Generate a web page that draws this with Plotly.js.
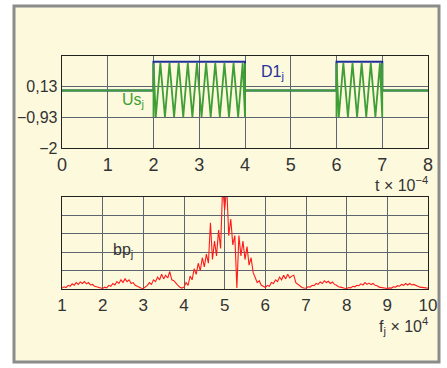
<!DOCTYPE html>
<html><head><meta charset="utf-8">
<script src="https://cdn.plot.ly/plotly-3.0.1.min.js"></script>
<style>html,body{margin:0;padding:0;background:#fff}#chart{width:447px;height:368px}</style>
</head><body><div id="chart"></div>
<script>
// Top chart: time axis (t x 10^-4)
const tTicks = [0,1,2,3,4,5,6,7,8];
const yTopTickVals = [-2,-0.93,0.13];
const yTopTickText = ['\u22122','\u22120,93','0,13'];
const yTopGrid = [-2,-0.93,0.13,1.2];
// D1 gate signal
const d1T = [0,2,2,4,4,6,6,7,7,8];
const d1V = [0,0,1,1,0,0,1,1,0,0];
// Us modulated signal (extrema)
const usT = [0,2,2,2,2.05,2.15,2.25,2.35,2.45,2.55,2.65,2.75,2.85,2.95,3.05,3.15,3.25,3.35,3.45,3.55,3.65,3.75,3.85,3.95,4,4,4,
             6,6,6,6.05,6.15,6.25,6.35,6.45,6.55,6.65,6.75,6.85,6.95,7,7,7,8];
const usV = [0,0,-0.92,0.95,-0.92,0.95,-0.92,0.95,-0.92,0.95,-0.92,0.95,-0.92,0.95,-0.92,0.95,-0.92,0.95,-0.92,0.95,-0.92,0.95,-0.92,0.95,-0.92,0.95,0,
             0,-0.92,0.95,-0.92,0.95,-0.92,0.95,-0.92,0.95,-0.92,0.95,-0.92,0.95,-0.92,0.95,0,0];
// Bottom chart: spectrum bp_j, f from 1 to 10 (x 10^4), sampled every 0.05
const fStart = 1, fStep = 0.05;
const fTicks = [1,2,3,4,5,6,7,8,9,10];
const bpV = [
 0.05,0.12,0.08,0.2,0.15,0.28,0.2,0.35,0.25,0.38,0.3,0.4,0.28,0.35,0.22,0.25,0.15,0.12,0.06,0.04,
 0.03,0.1,0.06,0.2,0.15,0.3,0.22,0.4,0.3,0.5,0.35,0.55,0.4,0.5,0.3,0.35,0.2,0.15,0.08,0.04,
 0.03,0.12,0.2,0.35,0.25,0.5,0.4,0.65,0.5,0.8,0.55,0.75,0.6,0.95,0.5,0.45,0.3,0.2,0.1,0.05,
 0.1,0.35,0.2,0.7,0.5,1.1,0.8,1.4,1.0,1.7,1.2,1.9,1.4,3.6,1.6,2.6,1.8,3.2,2.2,5.6,
 4.3,5.6,2.9,3.8,2.4,2.9,0.05,2.9,1.8,2.6,1.6,2.3,1.3,1.7,0.9,0.6,0.35,0.45,0.2,0.15,
 0.08,0.2,0.15,0.35,0.3,0.5,0.4,0.65,0.5,0.75,0.55,0.8,0.6,0.7,0.75,0.35,0.25,0.15,0.08,0.05,
 0.04,0.12,0.1,0.2,0.18,0.3,0.25,0.38,0.3,0.45,0.35,0.42,0.3,0.38,0.25,0.2,0.12,0.1,0.06,0.04,
 0.03,0.08,0.06,0.15,0.12,0.2,0.18,0.28,0.22,0.35,0.25,0.32,0.24,0.3,0.2,0.18,0.1,0.08,0.05,0.03,
 0.03,0.06,0.05,0.12,0.1,0.18,0.15,0.25,0.2,0.3,0.22,0.3,0.22,0.25,0.18,0.15,0.1,0.1,0.06,0.06,0.05
];
const bpF = bpV.map((_, i) => +(fStart + i * fStep).toFixed(2));
const yBotGrid = [0,1,2,3,4,5];

const W = 447, H = 368;
const px = v => v / W, py = v => 1 - v / H;
const FONT = 'Liberation Sans, Arial, sans-serif';
const TXT = '#333333', GRID = '#5d6670', AX = '#222222';

const traces = [
  {x: d1T, y: d1V, xaxis: 'x', yaxis: 'y', mode: 'lines', line: {color: '#1f2f9a', width: 2}, hoverinfo: 'skip'},
  {x: usT, y: usV, xaxis: 'x', yaxis: 'y', mode: 'lines', line: {color: '#3f9e35', width: 1.8}, hoverinfo: 'skip'},
  {x: bpF, y: bpV, xaxis: 'x2', yaxis: 'y2', mode: 'lines', line: {color: '#ff1a1a', width: 1.1}, hoverinfo: 'skip'}
];

const axCommon = {showline: true, mirror: true, linecolor: AX, linewidth: 1.3, showgrid: true, gridcolor: GRID, gridwidth: 1,
  zeroline: false, ticks: '', fixedrange: true};
// tick-mark-only overlay axes
const tickOnly = {showline: false, showgrid: false, zeroline: false, showticklabels: false, ticks: 'outside', ticklen: 4,
  tickcolor: AX, tickwidth: 1, fixedrange: true};

const layout = {
  width: W, height: H, margin: {l: 0, r: 0, t: 0, b: 0},
  paper_bgcolor: '#ffffff', plot_bgcolor: '#ffffff', showlegend: false,
  font: {family: FONT, color: TXT},
  xaxis: Object.assign({}, axCommon, {domain: [px(62), px(428)], anchor: 'y', range: [0, 8], tickvals: tTicks,
    tickfont: {size: 18, family: FONT, color: TXT}}),
  yaxis: Object.assign({}, axCommon, {domain: [py(148), py(56)], anchor: 'x', range: [-2, 1.2], tickvals: yTopTickVals,
    ticktext: yTopTickText, tickfont: {size: 16, family: FONT, color: TXT}}),
  yaxis5: Object.assign({}, axCommon, {domain: [py(148), py(56)], anchor: 'x', overlaying: 'y', range: [-2, 1.2],
    tickvals: yTopGrid, showticklabels: false, showline: false}),
  xaxis2: Object.assign({}, axCommon, {domain: [px(62), px(428)], anchor: 'y2', range: [1, 10], tickvals: fTicks,
    tickfont: {size: 17, family: FONT, color: TXT}}),
  yaxis2: Object.assign({}, axCommon, {domain: [py(289), py(197)], anchor: 'x2', range: [0, 5], tickvals: yBotGrid,
    showticklabels: false}),
  xaxis3: Object.assign({}, tickOnly, {overlaying: 'x', anchor: 'y', range: [0, 8], tickvals: tTicks}),
  yaxis3: Object.assign({}, tickOnly, {overlaying: 'y', anchor: 'x', range: [-2, 1.2], tickvals: yTopTickVals}),
  xaxis4: Object.assign({}, tickOnly, {overlaying: 'x2', anchor: 'y2', range: [1, 10], tickvals: fTicks}),
  shapes: [
    {type: 'rect', xref: 'paper', yref: 'paper', x0: px(14), x1: px(439), y0: py(362), y1: py(6),
     fillcolor: '#fdf9dd', line: {color: '#8c8c8c', width: 3}, layer: 'below'}
  ],
  annotations: [
    {xref: 'x', yref: 'y', x: 4.6, y: 0.62, text: 'D1<sub>j</sub>', showarrow: false, font: {size: 16, color: '#25329a', family: FONT}},
    {xref: 'x', yref: 'y', x: 1.55, y: -0.35, text: 'Us<sub>j</sub>', showarrow: false, font: {size: 16, color: '#3f9e35', family: FONT}},
    {xref: 'x2', yref: 'y2', x: 2.5, y: 2.1, text: 'bp<sub>j</sub>', showarrow: false, font: {size: 16, color: TXT, family: FONT}},
    {xref: 'paper', yref: 'paper', x: px(430), y: py(184), xanchor: 'right', yanchor: 'middle', text: 't \u00d7 10<sup>\u22124</sup>', showarrow: false, font: {size: 16, color: TXT, family: FONT}},
    {xref: 'paper', yref: 'paper', x: px(430), y: py(326), xanchor: 'right', yanchor: 'middle', text: 'f<sub>j</sub> \u00d7 10<sup>4</sup>', showarrow: false, font: {size: 16, color: TXT, family: FONT}}
  ]
};

Plotly.newPlot('chart', traces, layout, {displayModeBar: false, staticPlot: true});
</script>
</body></html>
